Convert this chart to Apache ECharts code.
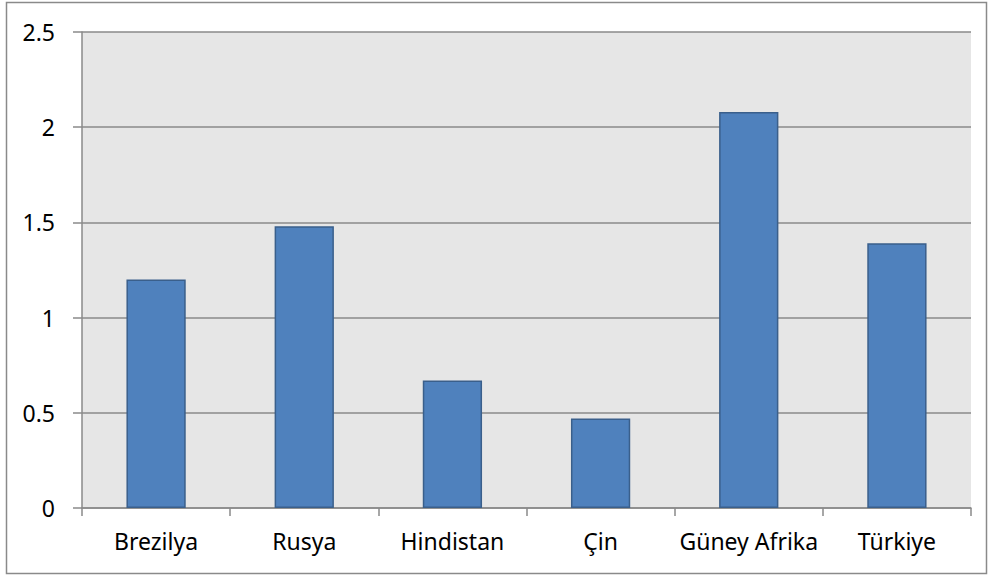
<!DOCTYPE html>
<html>
<head>
<meta charset="utf-8">
<script src="https://cdn.jsdelivr.net/npm/echarts@6/dist/echarts.min.js"></script>
<style>
  html, body { margin: 0; padding: 0; background: #fff; }
  #chart { width: 990px; height: 575px; }
</style>
</head>
<body>
<div id="chart"></div>
<script>
const countries = ["Brezilya", "Rusya", "Hindistan", "Çin", "Güney Afrika", "Türkiye"];
const values = [1.2, 1.48, 0.67, 0.47, 2.08, 1.39];

const font = "'Noto Sans', sans-serif";
const gridColor = "#8a8a8a";

const chart = echarts.init(document.getElementById("chart"), null, { renderer: "svg" });
chart.setOption({
  animation: false,
  textStyle: { fontFamily: font },
  graphic: [
    {
      type: "rect",
      shape: { x: 6.5, y: 2.5, width: 980, height: 571 },
      style: { fill: "none", stroke: "#8a8a8a", lineWidth: 1.5 },
      silent: true,
    },
  ],
  grid: {
    left: 82,
    top: 32,
    right: 19,
    bottom: 67,
    show: true,
    backgroundColor: "#e6e6e6",
    borderWidth: 0,
  },
  xAxis: {
    type: "category",
    data: countries,
    axisLine: { show: true, lineStyle: { color: gridColor, width: 1.5 } },
    axisTick: { show: true, interval: 0, length: 8, alignWithLabel: false, lineStyle: { color: gridColor, width: 1.5 } },
    axisLabel: { color: "#000", fontSize: 23, margin: 21, interval: 0, hideOverlap: false, fontFamily: font },
  },
  yAxis: {
    type: "value",
    min: 0,
    max: 2.5,
    interval: 0.5,
    axisLine: { show: true, lineStyle: { color: gridColor, width: 1.5 } },
    axisTick: { show: true, length: 9, inside: false, lineStyle: { color: gridColor, width: 1.5 } },
    axisLabel: { color: "#000", fontSize: 23, margin: 27, fontFamily: font },
    splitLine: { show: true, lineStyle: { color: gridColor, width: 1.5 } },
  },
  series: [
    {
      type: "bar",
      data: values,
      barWidth: "40%",
      itemStyle: {
        color: "#4f81bd",
        borderColor: "#3a5f8b",
        borderWidth: 1.5,
      },
    },
  ],
});
</script>
</body>
</html>
